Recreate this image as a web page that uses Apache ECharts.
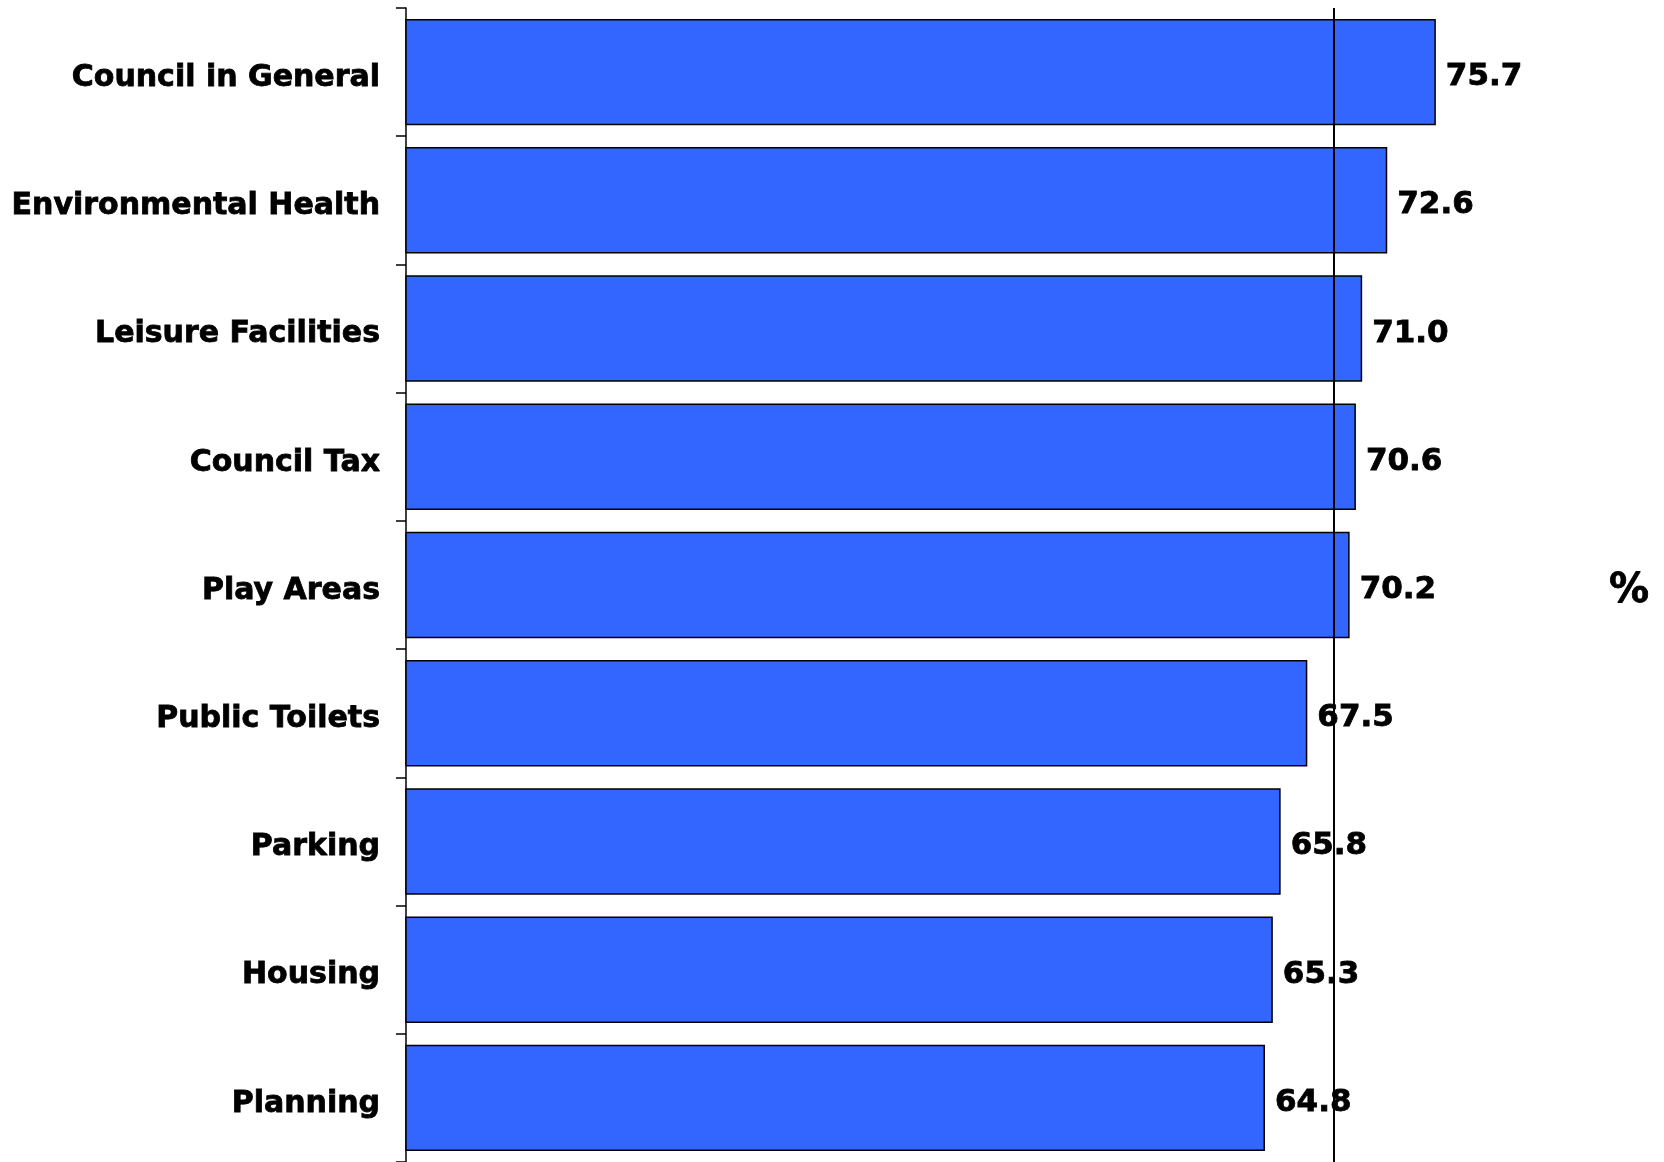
<!DOCTYPE html>
<html>
<head>
<meta charset="utf-8">
<script src="https://cdn.jsdelivr.net/npm/echarts@6/dist/echarts.min.js"></script>
<style>
  html, body { margin: 0; padding: 0; background: #fff; }
  #chart { width: 1664px; height: 1162px; }
</style>
</head>
<body>
<div id="chart"></div>
<script>
// services, top to bottom
const categories = [
  'Council in General',
  'Environmental Health',
  'Leisure Facilities',
  'Council Tax',
  'Play Areas',
  'Public Toilets',
  'Parking',
  'Housing',
  'Planning'
];
const scores = [75.7, 72.6, 71.0, 70.6, 70.2, 67.5, 65.8, 65.3, 64.8];
const averageLine = 69.2;

const font = 'DejaVu Sans';
const myChart = echarts.init(document.getElementById('chart'));

myChart.setOption({
  animation: false,
  title: {
    text: '%',
    left: 1604,
    top: 567,
    textStyle: {
      fontFamily: font, fontWeight: 'bold', fontSize: 40, color: '#000',
      textBorderColor: '#000', textBorderWidth: 0.8
    }
  },
  grid: {
    left: 406,
    top: 8,
    height: 1157,
    right: 4
  },
  xAxis: {
    type: 'value',
    min: 10,
    max: 90,
    show: false
  },
  yAxis: {
    type: 'category',
    data: categories,
    inverse: true,
    axisLine: { lineStyle: { color: '#000', width: 1.5 } },
    axisTick: { show: true, length: 10, lineStyle: { color: '#000', width: 1.5 } },
    axisLabel: {
      margin: 26,
      verticalAlign: 'top',
      lineHeight: 12,
      fontFamily: font,
      fontWeight: 'bold',
      fontSize: 30,
      color: '#000',
      textBorderColor: '#000',
      textBorderWidth: 0.8
    }
  },
  series: [
    {
      type: 'bar',
      data: scores,
      barCategoryGap: '17%',
      itemStyle: {
        color: '#3366FF',
        borderColor: '#000',
        borderWidth: 1.5
      },
      label: {
        show: true,
        position: 'right',
        distance: 10,
        offset: [0, 5],
        formatter: p => p.value.toFixed(1),
        fontFamily: font,
        fontWeight: 'bold',
        fontSize: 31,
        color: '#000',
        textBorderColor: '#000',
        textBorderWidth: 0.8
      },
      markLine: {
        silent: true,
        symbol: 'none',
        label: { show: false },
        lineStyle: { color: '#000', width: 2, type: 'solid' },
        data: [{ xAxis: averageLine }]
      }
    }
  ]
});
</script>
</body>
</html>
